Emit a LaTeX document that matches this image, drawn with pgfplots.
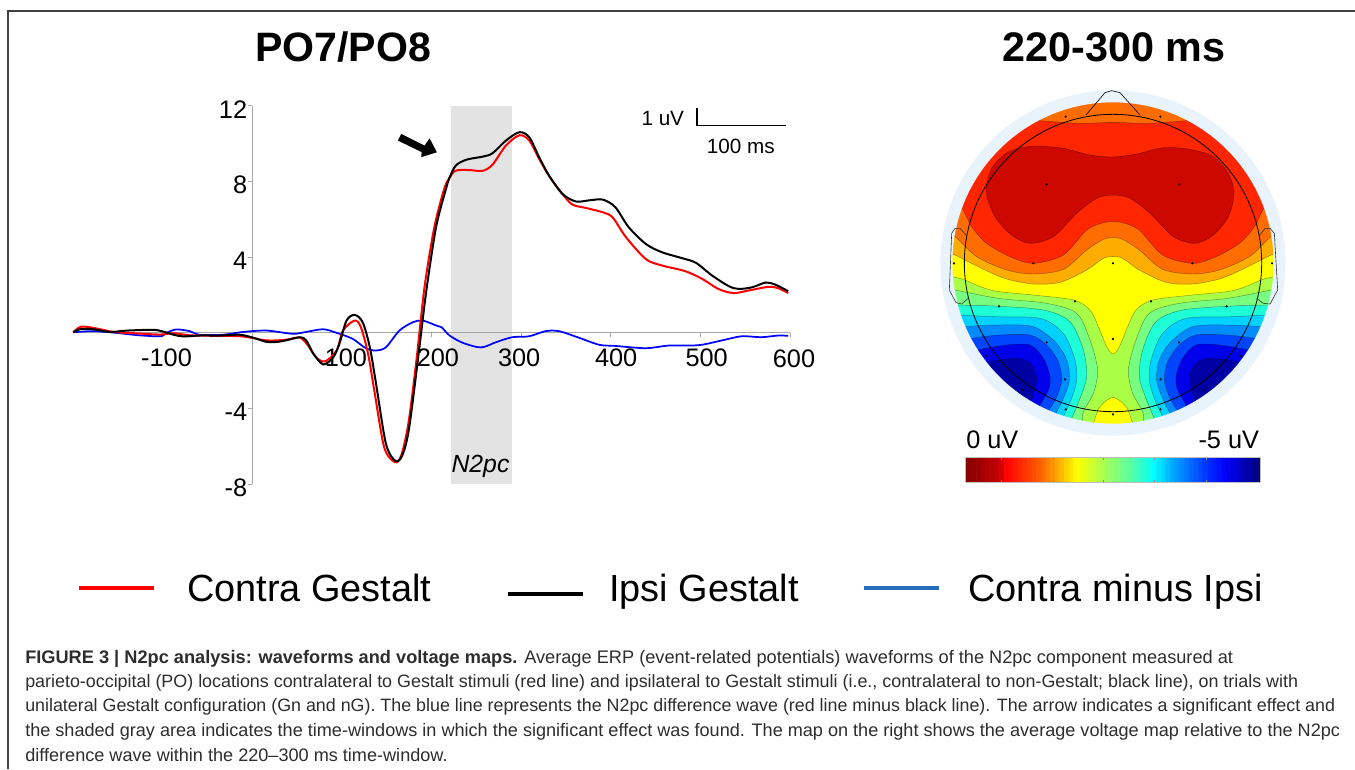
\documentclass[border=0pt]{standalone}
\usepackage{fontspec}
\setmainfont{Liberation Sans}
\usepackage{tikz}
\usepackage{pgfplots}
\usepackage{pgfplotstable}
\pgfplotsset{compat=1.18}
\newcommand{\fs}[1]{\fontsize{#1}{#1}\selectfont}

\definecolor{bandgray}{RGB}{227,227,227}
\definecolor{ringblue}{RGB}{233,243,252}
\definecolor{legblue}{RGB}{40,110,190}
\definecolor{captext}{RGB}{45,45,45}
\definecolor{cDark}{RGB}{204,8,0}
\definecolor{cRed}{RGB}{255,38,0}
\definecolor{cOrange}{RGB}{255,108,0}
\definecolor{cAmber}{RGB}{255,172,0}
\definecolor{cYellow}{RGB}{255,255,0}
\definecolor{cYG}{RGB}{170,255,70}
\definecolor{cLG}{RGB}{120,255,130}
\definecolor{cTeal}{RGB}{30,255,215}
\definecolor{cCyan}{RGB}{0,210,255}
\definecolor{cSky}{RGB}{0,140,255}
\definecolor{cBlue}{RGB}{0,70,255}
\definecolor{cDkBlue}{RGB}{0,0,235}
\definecolor{cNavy}{RGB}{0,0,165}

% ERP waveforms: time (ms), voltage (uV)
\pgfplotstableread[row sep=\\,header=false]{
-200 .03\\-192 .2\\-178 .19\\-159 .05\\-140 .12\\-111 .16\\-100 .07\\-88 -.1\\-77 -.19\\-59 -.14\\-36 -.14\\-14 -.1\\1 -.26\\16 -.48\\27 -.48\\38 -.39\\53 -.23\\60 -.4\\68 -1.1\\79 -1.67\\90 -1.3\\97 -.58\\105 .65\\114 .95\\123 .56\\131 -.76\\138 -2.7\\149 -5.86\\160 -6.78\\168 -6.39\\175 -4.98\\185 -1.29\\194 2.2\\205 5.6\\216 7.6\\220 8.2\\227 8.84\\239 9.15\\257 9.31\\268 9.49\\283 10.16\\298 10.6\\309 10.33\\320 9.28\\331 8.31\\346 7.34\\361 6.94\\376 7\\391 7.04\\405 6.64\\420 5.58\\439 4.7\\457 4.26\\480 3.94\\495 3.7\\513 3.03\\532 2.46\\543 2.32\\558 2.41\\573 2.66\\584 2.54\\598 2.2\\
}\ipsi
\pgfplotstableread[row sep=\\,header=false]{
-200 .03\\-191 .33\\-174 .23\\-155 .05\\-129 -.03\\-103 -.09\\-88 -.02\\-66 -.14\\-14 -.18\\16 -.4\\38 -.36\\53 -.25\\62 -.67\\71 -1.29\\81 -1.51\\94 -.93\\101 .12\\114 .65\\121 .3\\129 -1.1\\136 -3.05\\147 -6.04\\159 -6.83\\166 -6.48\\174 -4.8\\183 -1.46\\192 2.4\\203 5.58\\214 7.6\\220 8.2\\227 8.57\\242 8.6\\257 8.56\\268 8.89\\283 9.9\\298 10.44\\309 10.16\\320 9.19\\331 8.3\\346 7.34\\357 6.78\\372 6.6\\391 6.37\\402 6.1\\417 5.05\\439 3.9\\457 3.56\\483 3.26\\502 2.85\\520 2.32\\537 2.1\\554 2.24\\576 2.43\\587 2.36\\598 2.1\\
}\contra
\pgfplotstableread[row sep=\\,header=false]{
-200 .03\\-178 .09\\-152 0\\-129 -.12\\-103 -.18\\-96 0\\-85 .18\\-70 .09\\-59 -.1\\-33 -.1\\-10 .05\\16 .12\\45 -.05\\60 .05\\79 .19\\94 0\\112 -.32\\127 -.83\\138 -.93\\149 -.76\\164 .12\\179 .56\\190 .65\\205 .39\\211 .3\\220 -.14\\235 -.53\\255 -.77\\272 -.49\\290 -.23\\309 -.18\\327 .09\\342 .09\\364 -.25\\387 -.63\\405 -.69\\439 -.81\\465 -.67\\498 -.65\\524 -.4\\546 -.18\\568 -.23\\587 -.14\\598 -.16\\
}\diffwave

% voltage map contours, in map pixels; lower family is plotted twice, mirrored at 1098-x
\pgfplotstableread[row sep=\\,header=false]{48 625\\75 630\\205 655\\350 670\\440 700\\480 780\\503 870\\490 940\\460 995\\457 1030\\452 1046\\338 1002\\228 932\\139 836\\79 720\\}\cLone
\pgfplotstableread[row sep=\\,header=false]{60 668\\85 675\\190 678\\340 690\\420 725\\460 810\\470 890\\450 955\\425 1015\\415 1040\\338 1002\\228 932\\139 836\\79 720\\}\cLtwo
\pgfplotstableread[row sep=\\,header=false]{75 705\\93 705\\190 710\\330 715\\400 760\\435 840\\440 900\\425 955\\400 1010\\390 1030\\338 1002\\228 932\\139 836\\}\cLthree
\pgfplotstableread[row sep=\\,header=false]{85 745\\105 740\\210 735\\310 740\\375 785\\410 840\\418 900\\400 955\\378 1000\\368 1020\\338 1002\\228 932\\139 836\\}\cLfour
\pgfplotstableread[row sep=\\,header=false]{105 785\\125 775\\210 765\\300 765\\350 795\\385 845\\395 900\\378 955\\357 990\\345 1010\\228 932\\139 836\\}\cLfive
\pgfplotstableread[row sep=\\,header=false]{125 820\\145 810\\230 795\\300 795\\340 835\\360 890\\355 930\\330 975\\318 995\\228 932\\}\cLsix
\pgfplotstableread[row sep=\\,header=false]{165 860\\180 845\\260 835\\300 850\\320 890\\315 920\\305 960\\295 975\\228 932\\}\cLseven
\pgfplotstableread[row sep=\\,header=false]{485 1045\\490 1030\\510 980\\549 952\\588 980\\608 1030\\613 1045\\549 1049\\}\cBump
\pgfplotstableread[row sep=\\,header=false]{48 565\\105 600\\190 632\\310 645\\430 660\\480 690\\505 740\\530 800\\549 822\\568 800\\593 740\\618 690\\668 660\\788 645\\908 632\\993 600\\1050 565\\1019 378\\932 228\\799 116\\636 57\\462 57\\299 116\\166 228\\79 378\\}\cUyellow
\pgfplotstableread[row sep=\\,header=false]{48 515\\75 525\\165 570\\230 597\\310 612\\390 607\\470 570\\520 535\\549 530\\578 535\\628 570\\708 607\\788 612\\868 597\\933 570\\1023 525\\1050 515\\1019 378\\932 228\\799 116\\636 57\\462 57\\299 116\\166 228\\79 378\\}\cUamber
\pgfplotstableread[row sep=\\,header=false]{48 465\\75 470\\140 530\\230 570\\310 582\\400 568\\470 510\\520 478\\549 473\\578 478\\628 510\\698 568\\788 582\\868 570\\958 530\\1023 470\\1050 465\\1019 378\\932 228\\799 116\\636 57\\462 57\\299 116\\166 228\\79 378\\}\cUorange
\pgfplotstableread[row sep=\\,header=false]{79 378\\97 385\\125 440\\170 490\\240 530\\310 550\\400 525\\470 450\\520 428\\549 425\\578 428\\628 450\\698 525\\788 550\\858 530\\928 490\\973 440\\1001 385\\1019 378\\932 228\\799 116\\770 122\\650 130\\549 127\\450 130\\330 122\\299 116\\166 228\\}\cUred
\pgfplotstableread[row sep=\\,header=false]{168 335\\185 265\\225 222\\265 205\\320 198\\400 205\\480 225\\549 231\\620 222\\700 203\\780 208\\850 230\\895 280\\912 340\\895 410\\850 465\\795 490\\730 470\\660 400\\600 355\\549 345\\500 355\\440 400\\370 470\\300 490\\245 465\\195 410\\}\cUdark
\pgfplotstableread[row sep=\\,header=false]{407 110\\691 110\\350 313\\747 313\\72 550\\310 550\\549 550\\787 550\\1026 550\\207 679\\435 664\\663 664\\890 679\\549 777\\350 787\\747 787\\168 828\\930 828\\405 898\\692 898\\276 930\\822 930\\407 988\\691 988\\549 1003\\}\cElec

\pgfplotsset{
  contour/.style={smooth cycle,tension=.5,fill=#1,draw=black,draw opacity=.4,line width=.35pt,no markers},
  erpcolors/.style={colormap={erp}{rgb255(0cm)=(130,0,0) rgb255(12cm)=(200,0,0) rgb255(14cm)=(255,0,0) rgb255(25cm)=(255,90,0) rgb255(30cm)=(255,150,0) rgb255(38cm)=(255,255,0) rgb255(47cm)=(170,255,80) rgb255(56cm)=(90,255,160) rgb255(64cm)=(0,255,255) rgb255(71cm)=(0,160,255) rgb255(82cm)=(0,50,255) rgb255(88cm)=(0,0,255) rgb255(100cm)=(0,0,120)}},
}

\begin{document}
\begin{tikzpicture}
\path[use as bounding box] (0,0) rectangle (1016.25pt,576.75pt);

% page layer in image pixels: frame, titles, legend, caption
\begin{axis}[
    at={(0pt,0pt)},anchor=south west,
    scale only axis,width=1016.25pt,height=576.75pt,
    xmin=0,xmax=1355,ymin=0,ymax=769,y dir=reverse,
    hide axis,clip=false,
]
\draw[color=black!75,line width=.8pt] (8,769) -- (8,11) -- (1355,11);
\node[anchor=base,inner sep=0] at (343,61) {\fs{30.8}\bfseries PO7/PO8};
\node[anchor=base,inner sep=0] at (1114,61) {\fs{31}\bfseries 220-300 ms};
\node[anchor=base west,inner sep=0] at (187,601) {\fs{28.4}Contra Gestalt};
\node[anchor=base west,inner sep=0] at (609,601) {\fs{28.4}Ipsi Gestalt};
\node[anchor=base west,inner sep=0] at (968,601) {\fs{28.4}Contra minus Ipsi};
\addplot[red,line width=2.8pt] coordinates {(79,588) (154,588)};
\addplot[black,line width=2.8pt] coordinates {(508,594) (583,594)};
\addplot[legblue,line width=2.8pt] coordinates {(864,588) (939,588)};
\node[anchor=base west,inner sep=0,text=captext] at (25,663) {\fs{13.65}\textbf{FIGURE 3 | N2pc analysis: waveforms and voltage maps.} Average ERP (event-related potentials) waveforms of the N2pc component measured at};
\node[anchor=base west,inner sep=0,text=captext] at (25,687) {\fs{13.42}parieto-occipital (PO) locations contralateral to Gestalt stimuli (red line) and ipsilateral to Gestalt stimuli (i.e., contralateral to non-Gestalt; black line), on trials with};
\node[anchor=base west,inner sep=0,text=captext] at (25,711) {\fs{13.39}unilateral Gestalt configuration (Gn and nG). The blue line represents the N2pc difference wave (red line minus black line). The arrow indicates a significant effect and};
\node[anchor=base west,inner sep=0,text=captext] at (25,736) {\fs{13.57}the shaded gray area indicates the time-windows in which the significant effect was found. The map on the right shows the average voltage map relative to the N2pc};
\node[anchor=base west,inner sep=0,text=captext] at (25,761) {\fs{13.58}difference wave within the 220--300 ms time-window.};
\end{axis}

% shaded time window, under the tick labels of the waveform axis
\begin{axis}[
    at={(54.98pt,213.53pt)},anchor=south west,
    scale only axis,width=537.5pt,height=283.95pt,
    xmin=-200,xmax=600,ymin=-8,ymax=12,hide axis,
]
\addplot[fill=bandgray,draw=none] coordinates {(222,-8) (222,12) (289.4,12) (289.4,-8)} -- cycle;
\end{axis}

% waveforms
\begin{axis}[
    at={(54.98pt,213.53pt)},anchor=south west,
    scale only axis,width=537.5pt,height=283.95pt,
    xmin=-200,xmax=600,ymin=-8,ymax=12,
    axis lines=middle,
    axis line style={-,color=black!35,line width=.6pt},
    tick style={color=black!35,line width=.6pt},
    tick align=outside,major tick length=3pt,
    xtick={-100,100,200,300,400,500,600},xticklabels={,,,,,,\hspace*{6pt}600},
    extra x ticks={-95.9,104.3,207,297.7,406,507},
    extra x tick labels={-100,100,200,300,400,500},
    extra x tick style={major tick length=0pt,tick style={draw=none},xticklabel style={yshift=-2.3pt}},
    ytick={-8,-4,4,8,12},
    /pgf/number format/assume math mode=true,
    tick label style={font=\fs{19}},
    xticklabel style={yshift=-6.2pt},
    yticklabel style={xshift=2.5pt,yshift=-2.6pt},
    clip=false,
]
\addplot[blue,line width=1.3pt,smooth,tension=.5] table[x index=0,y index=1] {\diffwave};
\addplot[red,line width=1.5pt,smooth,tension=.5] table[x index=0,y index=1] {\contra};
\addplot[black,line width=1.5pt,smooth,tension=.5] table[x index=0,y index=1] {\ipsi};
\node[anchor=base,inner sep=0] at (axis cs:254.5,-7.4) {\fs{18.6}\itshape N2pc};
% significance arrow
\fill[black] (axis cs:162.3,10.16) -- (axis cs:166.1,10.51) -- (axis cs:192.1,9.89) -- (axis cs:197.7,10.28) -- (axis cs:205.8,9.54) -- (axis cs:188.4,9.28) -- (axis cs:188.8,9.55) -- cycle;
% scale bar
\draw[black,line width=1.1pt] (axis cs:496,11.9) -- (axis cs:496,10.95) -- (axis cs:596,10.95);
\node[anchor=base west,inner sep=0] at (axis cs:434,10.93) {\fs{15.5}1 uV};
\node[anchor=base west,inner sep=0] at (axis cs:507,9.5) {\fs{15.5}100 ms};
\end{axis}

% voltage map, coordinates in 1/3 image pixels from (930,80)
\begin{axis}[
    at={(697.5pt,201.75pt)},anchor=south west,
    scale only axis,width=277.5pt,height=315pt,
    xmin=0,xmax=1110,ymin=0,ymax=1260,y dir=reverse,
    hide axis,clip=false,
]
\fill[cYG] (axis cs:549,549) circle[radius=500];
\addplot[contour=cLG] table[x index=0,y index=1] {\cLone};
\addplot[contour=cLG] table[x expr=1098-\thisrowno{0},y index=1] {\cLone};
\addplot[contour=cTeal] table[x index=0,y index=1] {\cLtwo};
\addplot[contour=cTeal] table[x expr=1098-\thisrowno{0},y index=1] {\cLtwo};
\addplot[contour=cCyan] table[x index=0,y index=1] {\cLthree};
\addplot[contour=cCyan] table[x expr=1098-\thisrowno{0},y index=1] {\cLthree};
\addplot[contour=cSky] table[x index=0,y index=1] {\cLfour};
\addplot[contour=cSky] table[x expr=1098-\thisrowno{0},y index=1] {\cLfour};
\addplot[contour=cBlue] table[x index=0,y index=1] {\cLfive};
\addplot[contour=cBlue] table[x expr=1098-\thisrowno{0},y index=1] {\cLfive};
\addplot[contour=cDkBlue] table[x index=0,y index=1] {\cLsix};
\addplot[contour=cDkBlue] table[x expr=1098-\thisrowno{0},y index=1] {\cLsix};
\addplot[contour=cNavy] table[x index=0,y index=1] {\cLseven};
\addplot[contour=cNavy] table[x expr=1098-\thisrowno{0},y index=1] {\cLseven};
\addplot[contour=cYellow] table[x index=0,y index=1] {\cBump};
\addplot[contour=cYellow] table[x index=0,y index=1] {\cUyellow};
\addplot[contour=cAmber] table[x index=0,y index=1] {\cUamber};
\addplot[contour=cOrange] table[x index=0,y index=1] {\cUorange};
\addplot[contour=cRed] table[x index=0,y index=1] {\cUred};
\addplot[contour=cDark] table[x index=0,y index=1] {\cUdark};
\fill[ringblue,even odd rule] (axis cs:549,549) circle[radius=518] (axis cs:549,549) circle[radius=482];
\draw[black,line width=.6pt] (axis cs:549,549) circle[radius=446];
\addplot[black,line width=.45pt] coordinates {(468,105) (525,38) (545,32) (570,38) (630,105)};
\addplot[black!80,line width=.45pt] coordinates {(108,465) (90,445) (75,445) (65,460) (58,630) (78,668) (95,672) (115,655)};
\addplot[black!80,line width=.45pt] coordinates {(990,465) (1005,445) (1020,445) (1033,460) (1043,630) (1020,672) (1000,670) (980,655)};
\addplot[only marks,mark=*,mark size=.6pt,black] table[x index=0,y index=1] {\cElec};
\node[anchor=base west,inner sep=0] at (108,1105) {\fs{19}0 uV};
\node[anchor=base east,inner sep=0] at (988,1105) {\fs{19}-5 uV};
\end{axis}

% colour bar
\begin{axis}[
    at={(723.75pt,214.75pt)},anchor=south west,
    scale only axis,width=221.75pt,height=19.2pt,
    xmin=0,xmax=64,ymin=0,ymax=1,
    erpcolors,point meta min=0,point meta max=64,
    axis line style={color=black!25,line width=.3pt},
    ytick=\empty,xtick={7.73,19,29.9,41,52.2},xticklabels={},
    tick align=inside,major tick length=2pt,tick style={color=black!45,line width=.3pt},
    axis on top,
]
\addplot[matrix plot*,mesh/cols=65,point meta=x] table[row sep=\\] {
x y\\
0 0\\1 0\\2 0\\3 0\\4 0\\5 0\\6 0\\7 0\\8 0\\9 0\\10 0\\11 0\\12 0\\13 0\\14 0\\15 0\\16 0\\17 0\\18 0\\19 0\\20 0\\21 0\\22 0\\23 0\\24 0\\25 0\\26 0\\27 0\\28 0\\29 0\\30 0\\31 0\\32 0\\33 0\\34 0\\35 0\\36 0\\37 0\\38 0\\39 0\\40 0\\41 0\\42 0\\43 0\\44 0\\45 0\\46 0\\47 0\\48 0\\49 0\\50 0\\51 0\\52 0\\53 0\\54 0\\55 0\\56 0\\57 0\\58 0\\59 0\\60 0\\61 0\\62 0\\63 0\\64 0\\
0 1\\1 1\\2 1\\3 1\\4 1\\5 1\\6 1\\7 1\\8 1\\9 1\\10 1\\11 1\\12 1\\13 1\\14 1\\15 1\\16 1\\17 1\\18 1\\19 1\\20 1\\21 1\\22 1\\23 1\\24 1\\25 1\\26 1\\27 1\\28 1\\29 1\\30 1\\31 1\\32 1\\33 1\\34 1\\35 1\\36 1\\37 1\\38 1\\39 1\\40 1\\41 1\\42 1\\43 1\\44 1\\45 1\\46 1\\47 1\\48 1\\49 1\\50 1\\51 1\\52 1\\53 1\\54 1\\55 1\\56 1\\57 1\\58 1\\59 1\\60 1\\61 1\\62 1\\63 1\\64 1\\
};
\end{axis}
\end{tikzpicture}
\end{document}
